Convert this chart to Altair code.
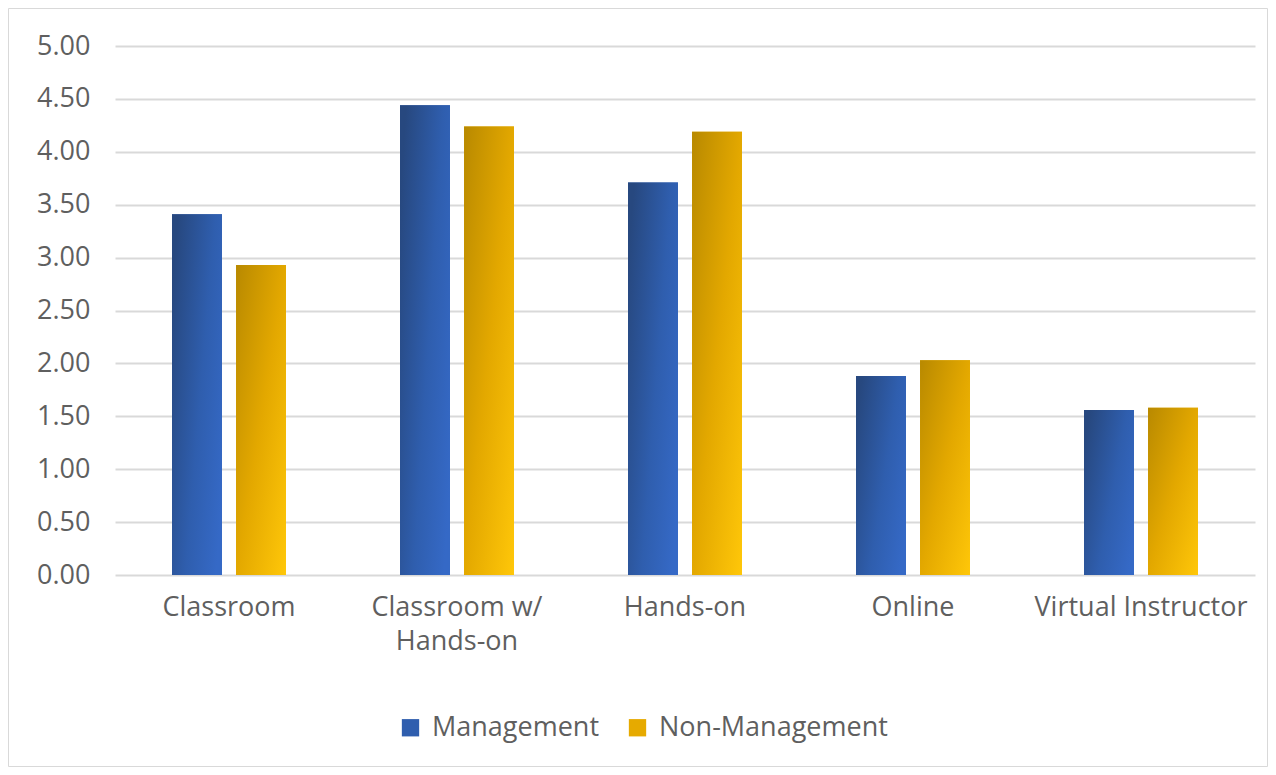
import altair as alt
import pandas as pd

categories = ["Classroom", "Classroom w/ Hands-on", "Hands-on", "Online", "Virtual Instructor"]
series = ["Management", "Non-Management"]
management = [3.41, 4.44, 3.71, 1.88, 1.56]
non_management = [2.93, 4.24, 4.19, 2.03, 1.58]
y_ticks = [0, 0.5, 1, 1.5, 2, 2.5, 3, 3.5, 4, 4.5, 5]

rows = []
for c, m, n in zip(categories, management, non_management):
    rows.append({"category": c, "series": series[0], "value": m})
    rows.append({"category": c, "series": series[1], "value": n})
df = pd.DataFrame(rows)

FONT = "Open Sans"
TXT = "#5f5f5f"
FS = 27

x_enc = alt.X("category:N", sort=categories,
              scale=alt.Scale(domain=categories, paddingInner=0.5, paddingOuter=0.25),
              axis=alt.Axis(title=None, labelAngle=0, labelFontSize=FS, labelColor=TXT,
                            labelFont=FONT, labelPadding=19, labelLineHeight=34,
                            labelLimit=0, domain=False, ticks=False, grid=False,
                            labelExpr="datum.value == 'Classroom w/ Hands-on' ? ['Classroom w/', 'Hands-on'] : datum.label"))
y_enc = alt.Y("value:Q", scale=alt.Scale(domain=[0, 5], nice=False),
              axis=alt.Axis(title=None, values=y_ticks, format=".2f", labelFontSize=FS,
                            labelColor=TXT, labelFont=FONT, labelPadding=25,
                            domain=False, ticks=False, grid=True, gridColor="#d9d9d9",
                            gridWidth=2))
xo_enc = alt.XOffset("series:N", scale=alt.Scale(domain=series, paddingInner=0.22, paddingOuter=0))

base = alt.Chart(df)

solid = base.mark_bar().encode(
    x=x_enc, y=y_enc, xOffset=xo_enc,
    color=alt.Color("series:N", scale=alt.Scale(domain=series, range=["#2f5eae", "#e6aa00"]),
                    legend=alt.Legend(title=None, orient="none", legendX=282, legendY=668,
                                      direction="horizontal", symbolType="square",
                                      symbolSize=300, symbolStrokeWidth=0,
                                      labelFontSize=FS, labelFont=FONT, labelColor=TXT,
                                      labelLimit=0, labelOffset=8, columnPadding=24))
)

blue_grad = alt.LinearGradient(
    gradient="linear",
    stops=[alt.GradientStop(color="#27487f", offset=0),
           alt.GradientStop(color="#2f5eae", offset=0.55),
           alt.GradientStop(color="#3569c6", offset=1)],
    x1=0, y1=0.2, x2=1, y2=0.8)
gold_grad = alt.LinearGradient(
    gradient="linear",
    stops=[alt.GradientStop(color="#b88900", offset=0),
           alt.GradientStop(color="#e3a800", offset=0.5),
           alt.GradientStop(color="#ffc709", offset=1)],
    x1=0, y1=0, x2=1, y2=1)

mg = base.transform_filter(alt.datum.series == "Management").mark_bar(fill=blue_grad).encode(
    x=x_enc, y=y_enc, xOffset=xo_enc)
nm = base.transform_filter(alt.datum.series == "Non-Management").mark_bar(fill=gold_grad).encode(
    x=x_enc, y=y_enc, xOffset=xo_enc)

frame = alt.Chart(pd.DataFrame({"a": [0]})).mark_rect(
    fill=None, stroke="#d9d9d9", strokeWidth=1
).encode(x=alt.value(-106.5), x2=alt.value(1152.5), y=alt.value(-37.5), y2=alt.value(720.5))

chart = alt.layer(frame, solid, mg, nm).properties(
    width=1140, height=529,
    autosize=alt.AutoSizeParams(type="none"),
    padding={"left": 107, "top": 38, "right": 13, "bottom": 192},
    background="white",
).configure_view(stroke=None)

chart.save("out.html", embed_options={"renderer": "svg", "actions": False})
